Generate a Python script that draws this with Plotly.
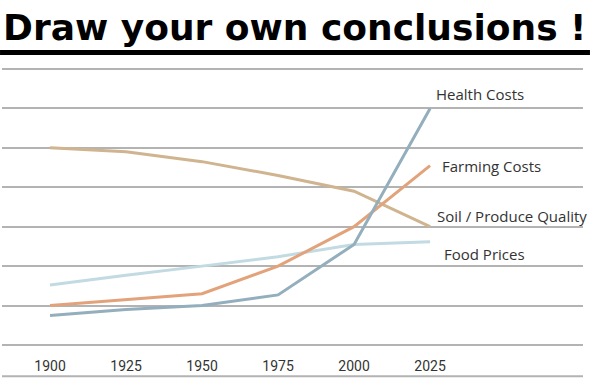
import plotly.graph_objects as go

years = [1900, 1925, 1950, 1975, 2000, 2025]
tick_labels = ["1900", "1925", "1950", "1975", "2000", "2025"]
soil_quality = [6.0, 5.9, 5.65, 5.3, 4.9, 4.0]
health_costs = [1.75, 1.9, 2.0, 2.27, 3.55, 7.0]
farming_costs = [2.0, 2.15, 2.3, 3.0, 4.0, 5.55]
food_prices = [2.52, 2.77, 3.0, 3.24, 3.55, 3.62]

series_names = ["Soil / Produce Quality", "Food Prices", "Farming Costs", "Health Costs"]
series_values = [soil_quality, food_prices, farming_costs, health_costs]
series_colors = ["#cfb48f", "#c2dbe2", "#e2a37b", "#93aebc"]
label_shift = [5, 12, 10, 4]
label_yoff = [11, -12, 0, 14]

grid_vals = [1, 2, 3, 4, 5, 6, 7, 8]
base_line = 0.21

fig = go.Figure()
for name, vals, col in zip(series_names, series_values, series_colors):
    fig.add_trace(go.Scatter(x=years, y=vals, mode="lines", name=name,
                             line=dict(color=col, width=3), showlegend=False))

for name, vals, col, dx, dy in zip(series_names, series_values, series_colors, label_shift, label_yoff):
    fig.add_annotation(x=years[-1], y=vals[-1], text=name, showarrow=False,
                       xanchor="left", yanchor="middle", xshift=dx, yshift=dy,
                       font=dict(family="Open Sans", size=15, color="#333333"))

fig.add_annotation(xref="paper", yref="paper", x=-0.002, y=1.1015, text="<b>Draw your own conclusions !</b>",
                   showarrow=False, xanchor="left", yanchor="middle",
                   font=dict(family="DejaVu Sans", size=36, color="#000000"))
fig.add_shape(type="rect", xref="paper", yref="paper", x0=-0.0034, x1=1.012, y0=1.0154, y1=1.0308,
              fillcolor="#000000", line=dict(width=0))
fig.add_shape(type="line", xref="paper", yref="y", x0=0, x1=1, y0=base_line, y1=base_line,
              line=dict(color="#b3b3b3", width=2), layer="below")

fig.update_layout(
    width=600, height=391,
    margin=dict(l=2, r=17, t=60, b=6),
    plot_bgcolor="white", paper_bgcolor="white",
    xaxis=dict(range=[1884.2, 2075.3], tickvals=years, ticktext=tick_labels,
               showgrid=False, zeroline=False, showline=False, ticks="",
               anchor="free", position=0.09,
               tickfont=dict(family="Roboto", size=14, color="#333333")),
    yaxis=dict(range=[-0.015, 8.228], tickvals=grid_vals, showticklabels=False,
               showgrid=True, gridcolor="#b3b3b3", gridwidth=2, zeroline=False),
)

fig.write_html("out.html", config={"displayModeBar": False},
               post_script="document.body.style.margin='0';document.body.style.overflow='hidden';")
